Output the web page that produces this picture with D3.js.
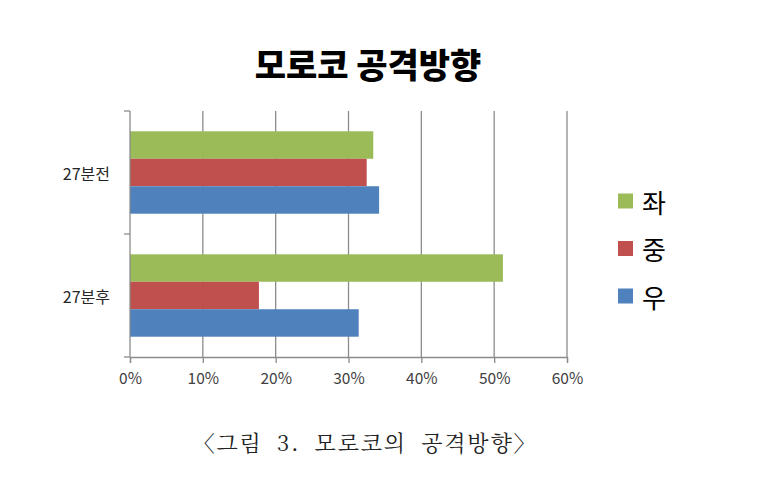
<!DOCTYPE html>
<html><head><meta charset="utf-8">
<script src="https://cdn.jsdelivr.net/npm/d3@7"></script>
<style>
html,body{margin:0;padding:0;background:#fff;}
svg{display:block;font-family:"Noto Sans CJK KR","Noto Sans",sans-serif;}
</style></head>
<body>
<svg id="chart" width="760" height="479"></svg>
<script>
const categories = ["27분전", "27분후"];
const seriesNames = ["좌", "중", "우"];
const seriesColors = ["#9BBB59", "#C0504D", "#4F81BD"];
const valuesLeft = [0.334, 0.512];   // 좌
const valuesCenter = [0.325, 0.177]; // 중
const valuesRight = [0.342, 0.314];  // 우
const tickValues = [0, 0.1, 0.2, 0.3, 0.4, 0.5, 0.6];
const titleText = "모로코 공격방향";
const captionText = "〈그림 3. 모로코의 공격방향〉";

(function () {
const seriesValues = [valuesLeft, valuesCenter, valuesRight];
const svg = d3.select("#chart");
const mLeft = 130, mRight = 567, mTop = 111, mBottom = 357;

const x = d3.scaleLinear().domain([0, 0.6]).range([mLeft, mRight]);
const y = d3.scaleBand().domain(categories).range([mTop, mBottom]).paddingInner(0.33).paddingOuter(0.165);
const ys = d3.scaleBand().domain(seriesNames).range([0, y.bandwidth()]);

// gridlines
svg.append("g").selectAll("line").data(tickValues.slice(1)).join("line")
  .attr("x1", d => x(d)).attr("x2", d => x(d))
  .attr("y1", mTop).attr("y2", mBottom)
  .attr("stroke", "#8c8c8c").attr("stroke-width", 1.3);

// bars
const rows = [];
categories.forEach((c, i) => seriesNames.forEach((s, j) => rows.push({c, s, v: seriesValues[j][i], color: seriesColors[j]})));
svg.append("g").selectAll("rect").data(rows).join("rect")
  .attr("x", x(0)).attr("y", d => y(d.c) + ys(d.s))
  .attr("width", d => x(d.v) - x(0)).attr("height", ys.bandwidth())
  .attr("fill", d => d.color);

// x axis
const xAxis = d3.axisBottom(x).tickValues(tickValues).tickFormat(d3.format(".0%")).tickSizeOuter(0).tickSize(6).tickPadding(10);
const gx = svg.append("g").attr("transform", `translate(0,${mBottom})`).call(xAxis);
gx.select(".domain").attr("stroke", "#8c8c8c").attr("stroke-width", 1.3);
gx.selectAll(".tick line").attr("stroke", "#8c8c8c").attr("stroke-width", 1.3);
gx.selectAll(".tick text").attr("font-size", 15.5).attr("fill", "#404040")
  .attr("font-family", "'Noto Sans CJK KR','Noto Sans',sans-serif");

// y axis
const gy = svg.append("g").attr("transform", `translate(${mLeft},0)`);
gy.append("line").attr("x1", 0).attr("x2", 0).attr("y1", mTop).attr("y2", mBottom)
  .attr("stroke", "#8c8c8c").attr("stroke-width", 1.3);
const boundaries = [mTop, ...categories.map(c => y(c) + y.bandwidth() + y.step() * y.paddingInner() / 2).slice(0, -1), mBottom];
gy.selectAll("line.tk").data(boundaries).join("line").attr("class", "tk")
  .attr("x1", -6).attr("x2", 0).attr("y1", d => d).attr("y2", d => d)
  .attr("stroke", "#8c8c8c").attr("stroke-width", 1.3);
gy.selectAll("text").data(categories).join("text")
  .attr("x", -20).attr("y", d => y(d) + y.bandwidth() / 2)
  .attr("text-anchor", "end").attr("dominant-baseline", "central")
  .attr("font-size", 16).attr("fill", "#262626").text(d => d);

// title
svg.append("text").attr("x", 368).attr("y", 63).attr("text-anchor", "middle")
  .attr("dominant-baseline", "central").attr("font-size", 34).attr("font-weight", 900)
  .attr("fill", "#000").text(titleText);

// legend
const lg = svg.append("g").selectAll("g").data(seriesNames).join("g")
  .attr("transform", (d, i) => `translate(618,${201 + i * 47.5})`);
lg.append("rect").attr("x", 0).attr("y", -7.5).attr("width", 15).attr("height", 15)
  .attr("fill", (d, i) => seriesColors[i]);
lg.append("text").attr("x", 24).attr("y", 0).attr("dominant-baseline", "central")
  .attr("font-size", 26).attr("fill", "#000").text(d => d);

// caption
svg.append("text").attr("x", 365).attr("y", 441).attr("text-anchor", "middle")
  .attr("dominant-baseline", "central").attr("font-size", 22).attr("fill", "#222")
  .attr("font-family", "'Noto Serif CJK KR','Noto Sans CJK KR',serif")
  .attr("letter-spacing", 1.8).attr("word-spacing", 7)
  .text(captionText);
})();
</script>
</body></html>
